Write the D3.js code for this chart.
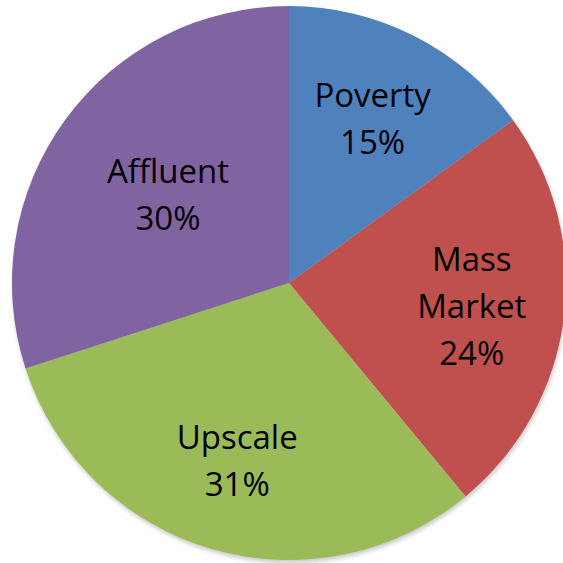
<!DOCTYPE html>
<html>
<head>
<meta charset="utf-8">
<script src="https://cdn.jsdelivr.net/npm/d3@7"></script>
<style>
  body { margin: 0; background: #fff; }
  svg { display: block; }
</style>
</head>
<body>
<div id="chart"></div>
<script>
const categories = ['Poverty', 'Mass Market', 'Upscale', 'Affluent'];
const shares = [15, 24, 31, 30];
const labelLines = [['Poverty'], ['Mass', 'Market'], ['Upscale'], ['Affluent']];
const colors = ['#4F81BD', '#C0504D', '#9BBB59', '#8064A2'];
// how far out each label sits, as a share of the radius
const labelRadius = [0.665, 0.665, 0.67, 0.54];

const width = 563, height = 563;
const cx = 289, cy = 283, radius = 277;

const svg = d3.select('#chart')
  .append('svg')
  .attr('width', width)
  .attr('height', height);

const defs = svg.append('defs');
const blur = defs.append('filter').attr('id', 'shadow')
  .attr('x', '-10%').attr('y', '-10%').attr('width', '120%').attr('height', '120%');
blur.append('feGaussianBlur').attr('stdDeviation', 2);

const g = svg.append('g').attr('transform', `translate(${cx},${cy})`);

const data = categories.map((c, i) => ({name: c, value: shares[i], lines: labelLines[i], i: i}));

const pie = d3.pie().sort(null).value(d => d.value);
const arcs = pie(data);
const arc = d3.arc().innerRadius(0).outerRadius(radius);

// soft shadow under the pie
g.append('circle')
  .attr('cx', 1).attr('cy', 3)
  .attr('r', radius)
  .attr('fill', '#999')
  .attr('opacity', 0.5)
  .attr('filter', 'url(#shadow)');

g.selectAll('.slice')
  .data(arcs)
  .enter().append('path')
  .attr('class', 'slice')
  .attr('d', arc)
  .attr('fill', d => colors[d.data.i]);

const fontSize = 33, lineH = 47;
const labels = g.selectAll('.label')
  .data(arcs)
  .enter().append('text')
  .attr('class', 'label')
  .attr('transform', d => {
    const r = radius * labelRadius[d.data.i];
    const c = d3.arc().innerRadius(r).outerRadius(r).centroid(d);
    return `translate(${c[0]},${c[1]})`;
  })
  .style('font-family', '"Open Sans", "Liberation Sans", sans-serif')
  .style('font-size', fontSize + 'px')
  .attr('fill', '#000')
  .attr('text-anchor', 'middle');

labels.each(function(d) {
  const lines = d.data.lines.concat([d.data.value + '%']);
  const self = d3.select(this);
  const top = -(lines.length - 1) * lineH / 2;
  lines.forEach((t, k) => {
    self.append('tspan')
      .attr('x', 0)
      .attr('y', top + k * lineH)
      .attr('dy', '0.35em')
      .text(t);
  });
});
</script>
</body>
</html>
